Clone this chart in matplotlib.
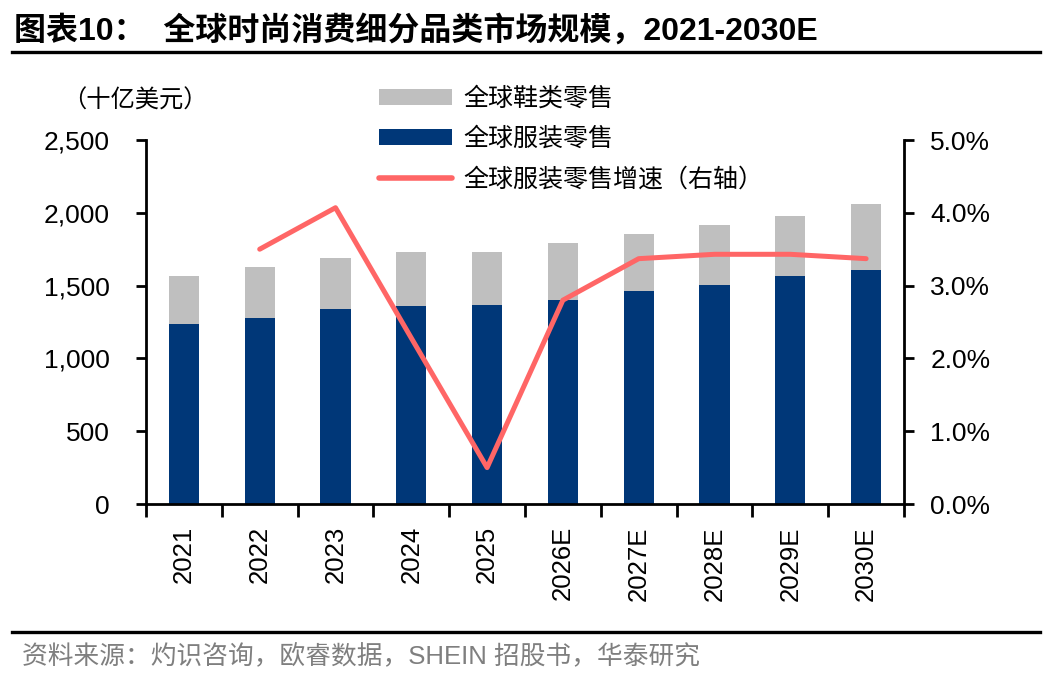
import matplotlib
matplotlib.use("Agg")
import matplotlib.pyplot as plt
import numpy as np
from matplotlib.patches import Patch
from matplotlib.lines import Line2D
from matplotlib.ticker import FuncFormatter

plt.rcParams['font.family'] = ['Liberation Sans', 'Noto Sans CJK SC', 'DejaVu Sans']

# data
years = ['2021', '2022', '2023', '2024', '2025', '2026E', '2027E', '2028E', '2029E', '2030E']
apparel = [1236, 1277, 1339, 1362, 1367, 1401, 1463, 1504, 1566, 1607]      # 全球服装零售
footwear_total = [1566, 1628, 1690, 1731, 1731, 1793, 1854, 1916, 1978, 2060]  # stacked top
growth = [np.nan, 3.50, 4.07, 2.28, 0.50, 2.80, 3.37, 3.43, 3.43, 3.37]      # %

footwear = [t - a for t, a in zip(footwear_total, apparel)]

NAVY = '#003778'
GREY = '#BFBFBF'
RED = '#FF6666'

W, H = 1048, 684
fig = plt.figure(figsize=(W / 100, H / 100), dpi=100)

# axes placed in pixel coords of the reference
left, right, top, bottom = 146, 904, 140, 504
ax = fig.add_axes([left / W, 1 - bottom / H, (right - left) / W, (bottom - top) / H])
ax2 = ax.twinx()

x = np.arange(len(years))
ax.bar(x, apparel, width=0.4, color=NAVY, zorder=2)
ax.bar(x, footwear, width=0.4, bottom=apparel, color=GREY, zorder=2)
ax2.plot(x, growth, color=RED, linewidth=3.6, solid_capstyle='round', zorder=3)

ax.set_xlim(-0.5, len(years) - 0.5)
ax.set_ylim(0, 2500)
ax.set_yticks(np.arange(0, 2501, 500))
ax.yaxis.set_major_formatter(FuncFormatter(lambda v, p: f'{int(v):,}'))
ax2.set_ylim(0, 5)
ax2.set_yticks(np.arange(0, 5.01, 1))
ax2.yaxis.set_major_formatter(FuncFormatter(lambda v, p: f'{v:.1f}%'))

ax.set_xticks(x)
ax.set_xticklabels(years, rotation=90)
ax.set_xticks(np.arange(-0.5, len(years), 1), minor=True)
ax.tick_params(axis='x', which='major', length=0, pad=16, labelsize=18.5)
ax.tick_params(axis='x', which='minor', length=9, width=2, direction='out')
ax.tick_params(axis='y', length=7, width=2, labelsize=19, pad=19)
ax2.tick_params(axis='y', length=7, width=2, labelsize=19, pad=12)

for a in (ax, ax2):
    a.spines['top'].set_visible(False)
    for s in ('left', 'right', 'bottom'):
        a.spines[s].set_linewidth(2)
ax.spines['right'].set_visible(False)
ax2.spines['left'].set_visible(False)
ax2.spines['bottom'].set_visible(False)

handles = [
    Patch(facecolor=GREY, edgecolor='none'),
    Patch(facecolor=NAVY, edgecolor='none'),
    Line2D([0], [0], color=RED, linewidth=4, solid_capstyle='round'),
]
labels = ['全球鞋类零售', '全球服装零售', '全球服装零售增速（右轴）']
fig.legend(handles, labels, loc='upper left', bbox_to_anchor=(356 / W, 1 - 63 / H),
           frameon=False, prop={'family': ['Noto Sans CJK SC'], 'size': 18},
           handlelength=2.95, handleheight=0.6, handletextpad=0.45, labelspacing=0.58)

fig.text(62 / W, 1 - 101 / H, '（十亿美元）', fontsize=17.5, family=['Noto Sans CJK SC'],
         va='center', ha='left')

# title and rules
fig.text(14 / W, 1 - 31 / H, '图表10：  全球时尚消费细分品类市场规模，2021-2030E',
         fontsize=23, fontweight='bold', va='center', ha='left',
         family=['Liberation Sans', 'Noto Sans CJK SC'])
fig.add_artist(Line2D([12 / W, 1040 / W], [1 - 52 / H, 1 - 52 / H], color='black', linewidth=2.4))
fig.add_artist(Line2D([12 / W, 1040 / W], [1 - 632 / H, 1 - 632 / H], color='black', linewidth=2.4))
fig.text(22 / W, 1 - 656 / H, '资料来源：灼识咨询，欧睿数据，SHEIN 招股书，华泰研究',
         fontsize=18.5, color='#7F7F7F', va='center', ha='left',
         family=['Liberation Sans', 'Noto Sans CJK SC'])

fig.savefig('out.png', dpi=100)
